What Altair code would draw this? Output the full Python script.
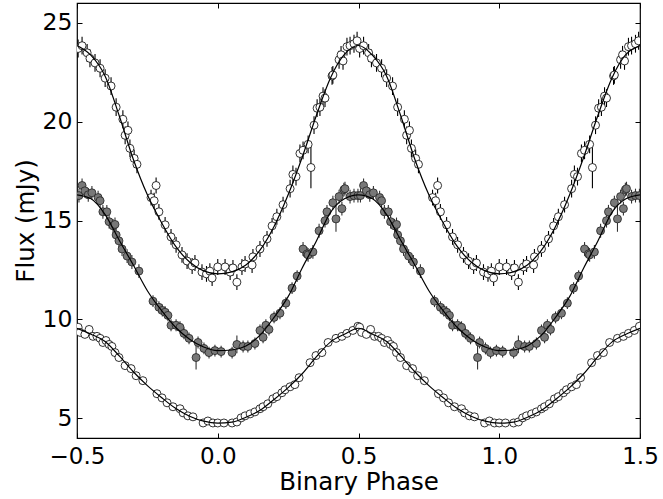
import altair as alt
import pandas as pd

# ---- observed light curves (one cycle, phase -0.5 .. 0.5; plotted twice) ----
top_phase = [-0.496, -0.482, -0.464, -0.454, -0.436, -0.418, -0.400, -0.379, -0.361, -0.337,
             -0.329, -0.319, -0.312, -0.297, -0.287, -0.237, -0.226, -0.219, -0.209, -0.187,
             -0.166, -0.148, -0.127, -0.109, -0.091, -0.081, -0.056, -0.040, -0.028, -0.020,
             0.000, 0.026, 0.044, 0.054, 0.068, 0.086, 0.097, 0.122, 0.125, 0.150,
             0.175, 0.193, 0.210, 0.232, 0.257, 0.267, 0.278, 0.292, 0.303, 0.321,
             0.331, 0.342, 0.353, 0.363, 0.374, 0.381, 0.406, 0.409, 0.431, 0.438,
             0.445, 0.459, 0.470, 0.484, 0.495]
top_flux = [23.70, 23.84, 23.48, 23.20, 22.97, 22.70, 22.20, 21.80, 20.73, 20.12,
            19.31, 19.56, 18.65, 18.14, 17.84, 16.16, 16.00, 16.77, 15.44, 14.78,
            14.17, 13.77, 13.26, 12.95, 12.70, 12.85, 12.39, 12.30, 12.44, 12.09,
            12.65, 12.65, 12.39, 12.60, 11.88, 12.65, 12.80, 12.75, 13.16, 13.56,
            14.07, 14.73, 15.19, 15.80, 16.61, 17.33, 17.22, 18.39, 18.55, 18.85,
            17.68, 19.82, 20.68, 20.73, 21.29, 21.19, 22.31, 22.36, 23.13, 23.38,
            23.07, 23.79, 23.84, 23.94, 24.09]
top_err = [0.45, 0.45, 0.45, 0.45, 0.45, 0.45, 0.45, 0.45, 0.45, 0.45,
           0.45, 0.45, 0.45, 0.45, 0.45, 0.40, 0.40, 0.40, 0.40, 0.40,
           0.40, 0.40, 0.40, 0.40, 0.40, 0.40, 0.40, 0.40, 0.40, 0.40,
           0.40, 0.40, 0.40, 0.40, 0.40, 0.40, 0.40, 0.40, 0.40, 0.40,
           0.40, 0.40, 0.40, 0.40, 0.45, 0.45, 0.45, 0.45, 0.45, 0.45,
           1.05, 0.45, 0.45, 0.45, 0.45, 0.45, 0.45, 0.45, 0.45, 0.45,
           0.45, 0.45, 0.45, 0.45, 0.45]

mid_phase = [-0.493, -0.482, -0.472, -0.460, -0.447, -0.425, -0.418, -0.408, -0.394, -0.386,
             -0.372, -0.365, -0.361, -0.351, -0.340, -0.322, -0.305, -0.280, -0.230, -0.209,
             -0.197, -0.187, -0.177, -0.166, -0.148, -0.134, -0.120, -0.102, -0.077, -0.070,
             -0.049, -0.031, -0.010, 0.012, 0.051, 0.068, 0.090, 0.107, 0.132, 0.150,
             0.161, 0.171, 0.182, 0.200, 0.221, 0.242, 0.264, 0.282, 0.303, 0.317,
             0.321, 0.338, 0.360, 0.381, 0.388, 0.409, 0.420, 0.431, 0.441, 0.448,
             0.452, 0.470, 0.484, 0.498]
mid_flux = [16.26, 16.77, 16.50, 16.30, 16.40, 16.16, 16.00, 15.44, 15.44, 14.94,
            14.73, 14.80, 14.27, 13.97, 13.56, 13.20, 12.90, 12.44, 10.92, 10.61,
            10.45, 10.36, 10.20, 9.70, 9.70, 9.60, 9.29, 9.04, 8.07, 8.83,
            8.53, 8.32, 8.42, 8.37, 8.32, 8.73, 8.63, 8.63, 8.78, 9.44,
            9.09, 9.70, 9.49, 10.10, 10.31, 10.82, 11.58, 12.19, 13.56, 13.31,
            13.26, 13.41, 14.48, 14.99, 15.44, 15.90, 15.08, 16.21, 15.60, 16.56,
            16.61, 16.21, 16.26, 16.26]
mid_err = [0.35, 0.35, 0.35, 0.35, 0.35, 0.35, 0.35, 0.35, 0.35, 0.35,
           0.35, 0.35, 0.35, 0.35, 0.35, 0.35, 0.35, 0.35, 0.30, 0.30,
           0.30, 0.30, 0.30, 0.30, 0.30, 0.30, 0.30, 0.30, 0.60, 0.30,
           0.30, 0.30, 0.30, 0.30, 0.30, 0.45, 0.30, 0.30, 0.30, 0.30,
           0.30, 0.30, 0.30, 0.30, 0.30, 0.30, 0.30, 0.30, 0.35, 0.35,
           0.35, 0.35, 0.35, 0.35, 0.35, 0.35, 0.65, 0.35, 0.35, 0.35,
           0.35, 0.35, 0.35, 0.35]

bot_phase = [-0.496, -0.489, -0.472, -0.457, -0.443, -0.429, -0.418, -0.408, -0.397, -0.386,
             -0.376, -0.365, -0.351, -0.329, -0.308, -0.290, -0.266, -0.216, -0.198, -0.180,
             -0.159, -0.134, -0.123, -0.106, -0.088, -0.052, -0.035, -0.017, 0.000, 0.022,
             0.051, 0.068, 0.083, 0.097, 0.115, 0.132, 0.150, 0.161, 0.178, 0.196,
             0.210, 0.228, 0.239, 0.257, 0.274, 0.289, 0.328, 0.349, 0.370, 0.392,
             0.420, 0.441, 0.459, 0.480, 0.498]
bot_flux = [9.60, 9.34, 9.24, 9.49, 9.14, 9.14, 9.04, 8.83, 8.93, 8.73,
            8.63, 8.32, 8.07, 7.66, 7.51, 7.15, 6.90, 6.24, 6.03, 5.78,
            5.58, 5.48, 5.27, 5.12, 5.07, 4.76, 4.86, 4.76, 4.76, 4.76,
            4.76, 4.81, 5.02, 5.12, 5.22, 5.32, 5.48, 5.58, 5.73, 5.98,
            6.09, 6.29, 6.44, 6.59, 6.70, 7.05, 7.81, 8.17, 8.32, 8.83,
            9.04, 9.14, 9.29, 9.44, 9.65]
bot_err = [0.15] * len(bot_phase)

# ---- model curves (one cycle, plotted twice) ----
model_phase = [-0.50, -0.45, -0.40, -0.35, -0.30, -0.25, -0.20, -0.15, -0.10, -0.05,
               0.00, 0.05, 0.10, 0.15, 0.20, 0.25, 0.30, 0.35, 0.40, 0.45, 0.50]
model_top = [23.85, 23.35, 22.30, 20.30, 18.10, 16.30, 14.90, 13.70, 12.90, 12.45,
             12.30, 12.40, 12.75, 13.50, 14.70, 16.30, 18.20, 20.30, 22.20, 23.40, 23.85]
model_mid = [16.30, 16.10, 15.30, 14.00, 12.75, 11.45, 10.45, 9.60, 9.00, 8.60,
             8.42, 8.45, 8.65, 9.20, 10.10, 11.15, 12.60, 13.95, 15.40, 16.10, 16.30]
model_bot = [9.55, 9.25, 8.88, 8.15, 7.35, 6.65, 6.05, 5.50, 5.10, 4.85,
             4.75, 4.80, 5.05, 5.40, 5.95, 6.55, 7.25, 8.10, 8.85, 9.25, 9.55]


def obs_frame(phase, flux, err, name):
    base = pd.DataFrame({"phase": phase, "flux": flux, "err": err})
    shifted = base.copy()
    shifted["phase"] = shifted["phase"] + 1.0
    df = pd.concat([base, shifted], ignore_index=True)
    df["lo"] = df["flux"] - df["err"]
    df["hi"] = df["flux"] + df["err"]
    df["series"] = name
    return df


def model_frame(values, name):
    base = pd.DataFrame({"phase": model_phase, "flux": values})
    shifted = base.copy()
    shifted["phase"] = shifted["phase"] + 1.0
    df = pd.concat([base, shifted.iloc[1:]], ignore_index=True)
    df["series"] = name
    return df


obs_open = pd.concat([obs_frame(top_phase, top_flux, top_err, "top"),
                      obs_frame(bot_phase, bot_flux, bot_err, "bottom")], ignore_index=True)
obs_grey = obs_frame(mid_phase, mid_flux, mid_err, "middle")
models = pd.concat([model_frame(model_top, "top"),
                    model_frame(model_mid, "middle"),
                    model_frame(model_bot, "bottom")], ignore_index=True)

FONT = "DejaVu Sans"
xscale = alt.Scale(domain=[-0.5, 1.5], nice=False, zero=False)
yscale = alt.Scale(domain=[4, 26], nice=False, zero=False)
tick_in = alt.ExprRef(expr="-5")

x_bottom = alt.Axis(values=[-0.5, 0.0, 0.5, 1.0, 1.5], format=".1f", title="Binary Phase",
                    grid=False, domain=False, tickSize=tick_in, tickColor="black",
                    labelPadding=12, labelFontSize=23, labelFont=FONT, labelColor="black",
                    labelFlush=False, titleFontSize=24.5, titleFont=FONT, titleFontWeight="normal",
                    titleColor="black", titleY=51, titleBaseline="alphabetic")
y_left = alt.Axis(values=[5, 10, 15, 20, 25], format="d", title="Flux (mJy)",
                  grid=False, domain=False, tickSize=tick_in, tickColor="black",
                  labelPadding=10, labelFontSize=23.5, labelFont=FONT, labelColor="black",
                  labelFlush=False, titleFontSize=24.5, titleFont=FONT, titleFontWeight="normal",
                  titleColor="black", titleX=-44, titleBaseline="alphabetic")
x_top = alt.Axis(orient="top", values=[-0.5, 0.0, 0.5, 1.0, 1.5], labels=False, title=None,
                 grid=False, domain=False, tickSize=tick_in, tickColor="black")
y_right = alt.Axis(orient="right", values=[5, 10, 15, 20, 25], labels=False, title=None,
                   grid=False, domain=False, tickSize=tick_in, tickColor="black")

err_open = alt.Chart(obs_open).mark_rule(color="black", strokeWidth=1.1, clip=True).encode(
    x=alt.X("phase:Q", scale=xscale, axis=x_bottom),
    y=alt.Y("lo:Q", scale=yscale, axis=y_left),
    y2="hi:Q",
)
err_grey = alt.Chart(obs_grey).mark_rule(color="#333333", strokeWidth=1.1, clip=True).encode(
    x=alt.X("phase:Q", scale=xscale, axis=None),
    y=alt.Y("lo:Q", scale=yscale, axis=None),
    y2="hi:Q",
)
pts_open = alt.Chart(obs_open).mark_point(shape="circle", filled=True, fill="white",
                                           stroke="black", strokeWidth=0.8, size=64,
                                           opacity=1, clip=True).encode(
    x=alt.X("phase:Q", scale=xscale, axis=x_top),
    y=alt.Y("flux:Q", scale=yscale, axis=y_right),
)
pts_grey = alt.Chart(obs_grey).mark_point(shape="circle", filled=True, fill="#787878",
                                           stroke="#222222", strokeWidth=0.8, size=64,
                                           opacity=1, clip=True).encode(
    x=alt.X("phase:Q", scale=xscale, axis=None),
    y=alt.Y("flux:Q", scale=yscale, axis=None),
)
lines = alt.Chart(models).mark_line(color="black", strokeWidth=1.2, interpolate="monotone",
                                    clip=True).encode(
    x=alt.X("phase:Q", scale=xscale, axis=None),
    y=alt.Y("flux:Q", scale=yscale, axis=None),
    detail="series:N",
)

chart = alt.layer(err_open, err_grey, pts_open, pts_grey, lines).resolve_axis(
    x="independent", y="independent"
).properties(
    width=563, height=435,
    padding={"left": 77, "top": 3, "right": 23, "bottom": 61},
    autosize=alt.AutoSizeParams(type="none"),
    background="white",
).configure_view(stroke="black", strokeWidth=1.2)

chart.save("out.html", embed_options={"renderer": "svg", "actions": False})
